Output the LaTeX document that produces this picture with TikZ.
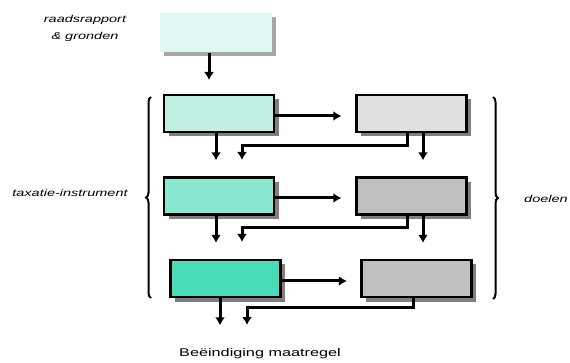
\documentclass[tikz,border=0pt]{standalone}
\usepackage{fontspec}
\newfontfamily\lblfont[FakeStretch=1.45]{Liberation Sans}
\usetikzlibrary{shadows, decorations.pathreplacing, arrows.meta}
\definecolor{srcfill}{HTML}{E0F8F4}
\definecolor{taxa}{HTML}{C0F0E4}
\definecolor{taxb}{HTML}{88E8D0}
\definecolor{taxc}{HTML}{48DCB8}
\definecolor{doela}{HTML}{E0E0E0}
\definecolor{doelb}{HTML}{C0C0C0}
\tikzstyle{block}=[draw, line width=2.6pt, minimum width=110pt, minimum height=37pt, inner sep=0pt,
    drop shadow={shadow xshift=4.5pt, shadow yshift=-4.5pt, fill=black!50, opacity=1}]
\tikzstyle{source}=[fill=srcfill, minimum width=112pt, minimum height=39pt, inner sep=0pt,
    drop shadow={shadow xshift=4pt, shadow yshift=-4pt, fill=black!35, opacity=1}]
\tikzstyle{flow}=[line width=3pt, -{Latex[length=8pt,width=10pt]}]
\tikzstyle{brace}=[line width=2pt, decorate, decoration={brace, amplitude=5pt}]
\tikzstyle{lbl}=[font=\lblfont\itshape\fontsize{10}{17}\selectfont, align=center]

\begin{document}
\begin{tikzpicture}[x=1pt, y=-1pt]
    \useasboundingbox (0,0) rectangle (570,363);
    \node [source] (src) at (216,33) {};
    \node [lbl] (rap) at (85,28) {raadsrapport\\\& gronden};
    \node [block, fill=taxa] (t1) at (219,113.5) {};
    \node [block, fill=doela] (d1) at (411.5,113.5) {};
    \node [block, fill=taxb] (t2) at (219,196) {};
    \node [block, fill=doelb] (d2) at (411.5,196) {};
    \node [block, fill=taxc] (t3) at (225.5,278.5) {};
    \node [block, fill=doelb] (d3) at (416.5,278.5) {};
    \coordinate (go) at (209,80);
    \draw [flow] (src.south -| go) -- (go);
    % rows
    \draw [flow] ([yshift=-2.5pt]t1.east) -- ++(66,0);
    \draw [flow] ([yshift=-2pt]t2.east) -- ++(66,0);
    \draw [flow] ([yshift=-2.5pt]t3.east) -- ++(65,0);
    \draw [flow] ([xshift=-3pt]t1.south) -- ++(0,27);
    \draw [flow] ([xshift=-4.5pt]d1.south) -- ++(0,12) -| (242,160);
    \draw [flow] ([xshift=11.5pt]d1.south) -- ++(0,27);
    \draw [flow] ([xshift=-3pt]t2.south) -- ++(0,27);
    \draw [flow] ([xshift=-4.5pt]d2.south) -- ++(0,12) -| (242,242);
    \draw [flow] ([xshift=11.5pt]d2.south) -- ++(0,27);
    \draw [flow] ([xshift=-5.5pt]t3.south) -- ++(0,27);
    \draw [flow] ([xshift=-3.5pt]d3.south) -- ++(0,9) -| (247,325);
    % braces
    \draw [brace] (151,298) -- (151,97);
    \draw [brace] (493,97) -- (493,299);
    \node [lbl] (tax) at (70,193) {taxatie-instrument};
    \node [lbl] (doel) at (546,199) {doelen};
    \node [font=\lblfont\fontsize{11.2}{13}\selectfont] (end) at (260,354) {Beëindiging maatregel};
\end{tikzpicture}
\end{document}
